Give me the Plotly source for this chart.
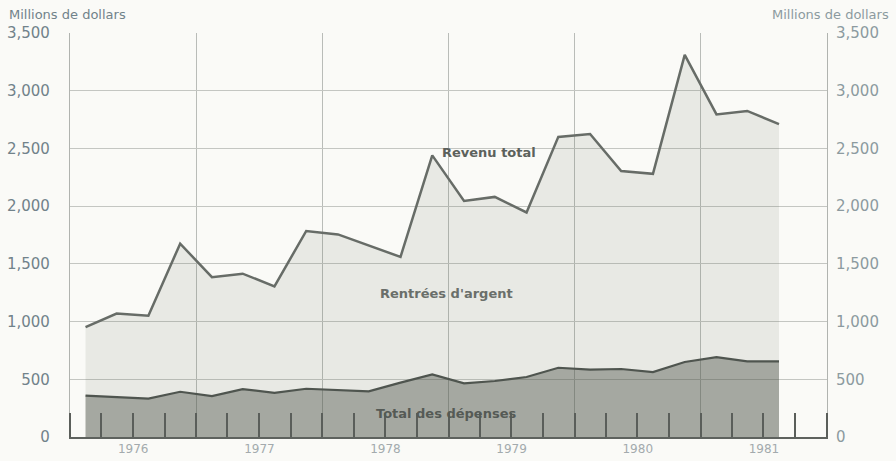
import plotly.graph_objects as go

# ---- data (millions de dollars, quarterly) ----
years = [1976]*4 + [1977]*4 + [1978]*4 + [1979]*4 + [1980]*4 + [1981]*3
quarters = [1, 2, 3, 4]*5 + [1, 2, 3]
revenu_total = [951, 1070, 1050, 1675, 1385, 1415, 1305, 1785,
                1755, 1660, 1560, 2440, 2045, 2080, 1945, 2600,
                2625, 2305, 2280, 3310, 2795, 2825, 2710]
total_depenses = [359, 347, 333, 392, 355, 415, 383, 418,
                  410, 396, 471, 543, 465, 485, 520, 600,
                  583, 589, 563, 650, 692, 655, 655]
y_tickvals = [0, 500, 1000, 1500, 2000, 2500, 3000, 3500]
y_ticktext = ["0", "500", "1,000", "1,500", "2,000", "2,500", "3,000", "3,500"]
axis_title = "Millions de dollars"
label_revenu = "Revenu total"
label_rentrees = "Rentrées d'argent"
label_depenses = "Total des dépenses"

# mid-quarter dates
x_dates = [f"{y}-{3*q-1:02d}-15" for y, q in zip(years, quarters)]

FONT = "DejaVu Sans, Liberation Sans, sans-serif"
BG = "#fafaf7"
LABEL_COL = "#71828a"
RIGHT_COL = "#8c9a9f"

fig = go.Figure()
fig.add_trace(go.Scatter(
    x=x_dates, y=revenu_total, mode="lines", fill="tozeroy",
    fillcolor="rgba(90,100,85,0.11)",
    line=dict(color="#676c67", width=2.5), showlegend=False, hoverinfo="skip"))
fig.add_trace(go.Scatter(
    x=x_dates, y=total_depenses, mode="lines", fill="tozeroy",
    fillcolor="rgba(80,84,76,0.44)",
    line=dict(color="#4f554f", width=2.2), showlegend=False, hoverinfo="skip"))
# invisible trace to activate the right axis
fig.add_trace(go.Scatter(x=x_dates, y=revenu_total, yaxis="y2", mode="lines",
                         line=dict(width=0), opacity=0, showlegend=False, hoverinfo="skip"))

fig.update_layout(
    width=896, height=461,
    margin=dict(l=70, r=69, t=33, b=24, autoexpand=False),
    paper_bgcolor=BG, plot_bgcolor=BG,
    font=dict(family=FONT, color=LABEL_COL),
    xaxis=dict(
        type="date", range=["1976-01-01", "1982-01-01"],
        tick0="1976-01-01", dtick="M12", tickformat="%Y",
        ticklabelmode="period", automargin=False,
        ticks="inside", ticklen=24, tickwidth=1.5, tickcolor="#5a5e5a",
        showgrid=True, gridcolor="#b9bcb8", gridwidth=1.2,
        showline=True, linecolor="#5e625e", linewidth=2,
        tickfont=dict(size=12, color="#a3aaad"),
        minor=dict(dtick="M3", tick0="1976-01-01", ticks="inside", ticklen=24,
                   tickwidth=1.5, tickcolor="#5a5e5a", showgrid=False),
        zeroline=False,
    ),
    yaxis=dict(
        range=[0, 3500], tickvals=y_tickvals, ticktext=y_ticktext,
        showgrid=True, gridcolor="#c4c6c2", gridwidth=1.2, automargin=False,
        showline=True, linecolor="#b0b3af", linewidth=1.2, mirror=True,
        ticks="", ticklabelstandoff=16, zeroline=False,
        tickfont=dict(size=15, color=LABEL_COL),
    ),
    yaxis2=dict(
        range=[0, 3500], tickvals=y_tickvals, ticktext=y_ticktext,
        overlaying="y", side="right", showgrid=False, zeroline=False,
        ticks="", ticklabelstandoff=8, automargin=False,
        tickfont=dict(size=15, color=RIGHT_COL),
    ),
    annotations=[
        dict(text=axis_title, xref="paper", yref="paper", x=-0.083, y=1.0,
             xanchor="left", yanchor="bottom", yshift=9, showarrow=False,
             font=dict(size=13, color=LABEL_COL)),
        dict(text=axis_title, xref="paper", yref="paper", x=1.085, y=1.0,
             xanchor="right", yanchor="bottom", yshift=9, showarrow=False,
             font=dict(size=13, color=RIGHT_COL)),
        dict(text=f"<b>{label_revenu}</b>", x="1979-04-29", y=2466, showarrow=False,
             font=dict(size=13, color="#5c615c")),
        dict(text=f"<b>{label_rentrees}</b>", x="1978-12-27", y=1244, showarrow=False,
             font=dict(size=13, color="#6a6f6a")),
        dict(text=f"<b>{label_depenses}</b>", x="1978-12-24", y=207, showarrow=False,
             font=dict(size=13, color="#555a55")),
    ],
)

fig.write_html("out.html",
               config={"displayModeBar": False},
               post_script="document.body.style.margin='0';document.body.style.background='#fafaf7';")
